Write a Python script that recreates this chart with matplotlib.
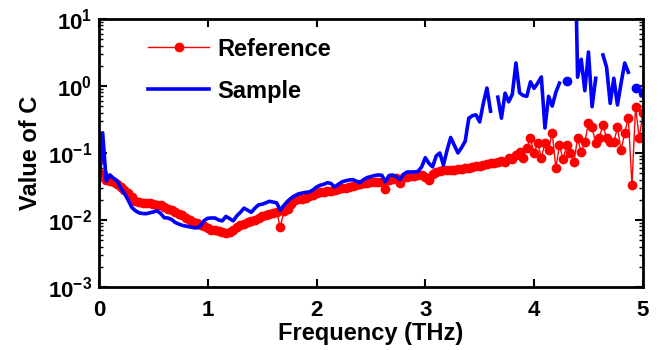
import numpy as np
import matplotlib
matplotlib.use('Agg')
import matplotlib.pyplot as plt
from matplotlib.ticker import FuncFormatter, LogLocator, NullFormatter

plt.rcParams['font.family'] = ['Liberation Sans', 'DejaVu Sans']
plt.rcParams['font.weight'] = 'bold'
plt.rcParams['mathtext.fontset'] = 'custom'
plt.rcParams['mathtext.rm'] = 'Liberation Sans:bold'
plt.rcParams['mathtext.bf'] = 'Liberation Sans:bold'

nan = np.nan

# frequency grid (THz), 30 points per THz
freq = np.linspace(0, 5, 151)

# Reference
reference = [
    0.085, 0.048, 0.039, 0.038, 0.037, 0.034, 0.031, 0.028, 0.025, 0.022,
    0.0195, 0.0185, 0.018, 0.018, 0.0178, 0.0172, 0.017, 0.0165, 0.0157, 0.0148,
    0.014, 0.0131, 0.0124, 0.0117, 0.0108, 0.0099, 0.0093, 0.0089, 0.0085, 0.0080,
    0.0075, 0.0072, 0.0071, 0.0069, 0.0067, 0.0064, 0.0066, 0.0072, 0.0078, 0.0084,
    0.0088, 0.0092, 0.0096, 0.0101, 0.0107, 0.0113, 0.0118, 0.0124, 0.0129, 0.0133,
    0.0078, 0.0136, 0.0145, 0.0175, 0.0198, 0.0203, 0.0208, 0.0213, 0.0225, 0.0238,
    0.025, 0.0257, 0.0265, 0.027, 0.0274, 0.028, 0.0288, 0.0296, 0.0305, 0.0313,
    0.0322, 0.0334, 0.035, 0.0358, 0.0362, 0.0366, 0.037, 0.0372, 0.0365, 0.0285,
    0.040, 0.041, 0.042, 0.036, 0.0432, 0.044, 0.0448, 0.0455, 0.0462, 0.0468,
    0.0445, 0.040, 0.048, 0.052, 0.0545, 0.055, 0.0552, 0.0556, 0.0565, 0.0575,
    0.0585, 0.0595, 0.0605, 0.062, 0.0632, 0.0645, 0.066, 0.069, 0.0705, 0.0715,
    0.0735, 0.077, 0.074, 0.084, 0.080, 0.092, 0.105, 0.085, 0.120, 0.165,
    0.100, 0.140, 0.085, 0.140, 0.110, 0.200, 0.060, 0.130, 0.080, 0.130,
    0.100, 0.074, 0.165, 0.102, 0.145, 0.280, 0.240, 0.140, 0.170, 0.260,
    0.165, 0.145, 0.145, 0.240, 0.110, 0.200, 0.330, 0.033, 0.490, 0.165,
    0.390,
]

# Sample (nan = no value)
sample = [
    0.03, 0.20, 0.038, 0.047, 0.042, 0.038, 0.030, 0.025, 0.020, 0.0155,
    0.0138, 0.0128, 0.0125, 0.0124, 0.0128, 0.0132, 0.0137, 0.0125, 0.0108, 0.0107,
    0.0102, 0.0092, 0.0087, 0.0083, 0.0081, 0.0079, 0.0077, 0.0076, 0.0082, 0.0098,
    0.0106, 0.0107, 0.0107, 0.0100, 0.0097, 0.0113, 0.0105, 0.0097, 0.0115, 0.0130,
    0.0150, 0.0140, 0.0130, 0.0150, 0.0168, 0.0172, 0.0180, 0.0190, 0.0185, 0.0180,
    0.0140, 0.0165, 0.0190, 0.0212, 0.0230, 0.0245, 0.0252, 0.0258, 0.0262, 0.0280,
    0.0310, 0.0330, 0.0340, 0.0360, 0.0350, 0.0310, 0.0340, 0.0370, 0.0385, 0.0395,
    0.0400, 0.0380, 0.0360, 0.0400, 0.0430, 0.0445, 0.0460, 0.0470, 0.0465, 0.0370,
    0.0460, 0.0470, 0.0440, 0.0400, 0.0480, 0.0520, 0.0520, 0.0520, 0.0530, 0.0620,
    0.085, 0.070, 0.062, 0.090, 0.100, 0.066, 0.110, 0.170, 0.130, 0.100,
    0.120, 0.150, 0.330, 0.360, 0.370, 0.290, 0.550, 0.930, 0.420, nan,
    0.68, 0.33, 0.78, 0.58, 0.75, 2.2, 0.79, 0.72, 0.70, 1.15,
    0.92, 1.10, 1.36, 0.236, 0.70, 0.50, 0.80, 1.10, nan, 1.20,
    nan, 1000, 1.35, 2.5, 0.85, 3.2, 0.49, 1.3, nan, 2.9,
    1.9, 0.55, 1.3, 0.52, 1.1, 2.2, 1.6, nan, 0.93, nan,
    0.78,
]

reference = np.array(reference)
sample = np.array(sample)

# points of the sample with no neighbour are shown as dots
ok = np.isfinite(sample)
prev_ok = np.r_[False, ok[:-1]]
next_ok = np.r_[ok[1:], False]
lone = ok & ~prev_ok & ~next_ok

fig = plt.figure(figsize=(6.6, 3.5), dpi=100)
ax = fig.add_axes([0.15, 0.18, 0.824, 0.766])

ax.plot(freq, reference, '-o', color='#ff0000', lw=1.0, ms=6,
        mec='#ff0000', mfc='#ff0000', label='Reference')
ax.plot(freq, sample, '-', color='#0000ff', lw=2.6, label='Sample')
ax.plot(freq[lone], sample[lone], 'o', color='#0000ff', ms=6)

ax.set_yscale('log')
ax.set_xlim(0, 5)
ax.set_ylim(1e-3, 10)
ax.set_xticks([0, 1, 2, 3, 4, 5])
ax.yaxis.set_major_locator(LogLocator(base=10, numticks=10))
ax.yaxis.set_minor_locator(LogLocator(base=10, subs=np.arange(2, 10), numticks=20))
ax.yaxis.set_minor_formatter(NullFormatter())
ax.yaxis.set_major_formatter(FuncFormatter(lambda v, p: r'$\mathbf{10^{%d}}$' % round(np.log10(v))))

ax.tick_params(which='both', direction='in', top=True, right=True,
               labelsize=16, width=1.5)
ax.tick_params(which='major', length=6)
ax.tick_params(axis='x', which='major', pad=9)
ax.tick_params(axis='y', which='major', pad=5)
ax.tick_params(which='minor', length=3, width=1.0)
for s in ax.spines.values():
    s.set_linewidth(2)

ax.set_xlabel('Frequency (THz)', fontsize=17, fontweight='bold', labelpad=1)
ax.set_ylabel('Value of C', fontsize=17, fontweight='bold', labelpad=4)

leg = ax.legend(loc='upper left', bbox_to_anchor=(0.09, 0.93), frameon=False,
                fontsize=17, handlelength=2.6, labelspacing=0.8, handletextpad=0.35,
                borderpad=0, borderaxespad=0)

fig.savefig('out.png', dpi=100)
